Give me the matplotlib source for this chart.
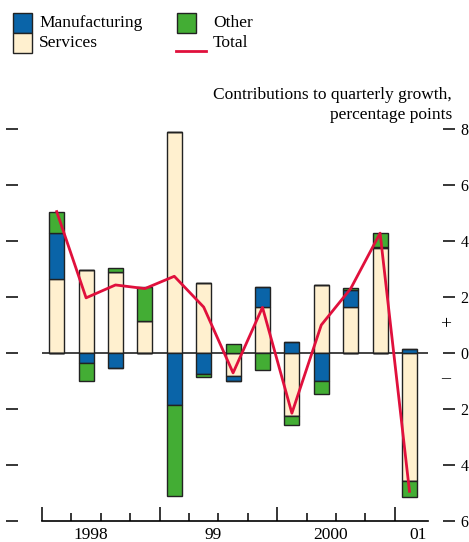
import numpy as np
import matplotlib.pyplot as plt
from matplotlib.patches import Rectangle
from matplotlib.lines import Line2D

plt.rcParams['font.family'] = ['Liberation Serif', 'DejaVu Serif']

# Quarterly contributions, 1998Q1 .. 2001Q1 (percentage points)
quarters = ['1998Q1', '1998Q2', '1998Q3', '1998Q4',
            '1999Q1', '1999Q2', '1999Q3', '1999Q4',
            '2000Q1', '2000Q2', '2000Q3', '2000Q4', '2001Q1']
services = [2.64, 2.96, 2.88, 1.15, 7.89, 2.49, -0.83, 1.63, -2.24, 2.43, 1.63, 3.74, -4.57]
manufacturing = [1.64, -0.37, -0.55, 0.0, -1.86, -0.76, -0.18, 0.72, 0.40, -1.01, 0.63, 0.06, 0.15]
other = [0.77, -0.64, 0.16, 1.20, -3.26, -0.11, 0.32, -0.62, -0.32, -0.44, 0.07, 0.50, -0.56]
total = [5.05, 1.97, 2.43, 2.30, 2.74, 1.64, -0.71, 1.63, -2.15, 1.00, 2.30, 4.28, -4.94]

year_labels = ['1998', '99', '2000', '01']
yticks = [-6, -4, -2, 0, 2, 4, 6, 8]
ytick_labels = ['6', '4', '2', '0', '2', '4', '6', '8']

c_manu = '#0a64a8'
c_serv = '#fff0cf'
c_other = '#43ad34'
c_total = '#e0103c'

W, H = 469, 542
fig = plt.figure(figsize=(W / 100, H / 100), dpi=100)
ax = fig.add_axes([42 / W, 21 / H, (428 - 42) / W, (521 - 129) / H])

x = np.arange(len(quarters)) + 0.5
width = 0.51

# stack positives and negatives separately in order services, manufacturing, other
pos_base = np.zeros(len(x))
neg_base = np.zeros(len(x))
for vals, col in [(services, c_serv), (manufacturing, c_manu), (other, c_other)]:
    v = np.array(vals)
    pos = np.where(v > 0, v, 0)
    neg = np.where(v < 0, v, 0)
    ax.bar(x, pos, width, bottom=pos_base, color=col, edgecolor='#222222', linewidth=1.0, zorder=2)
    ax.bar(x, neg, width, bottom=neg_base, color=col, edgecolor='#222222', linewidth=1.0, zorder=2)
    pos_base += pos
    neg_base += neg

ax.axhline(0, color='#222222', linewidth=1.2, zorder=1)
ax.plot(x, total, color=c_total, linewidth=2.0, zorder=3)

ax.set_xlim(0, 13.13)
ax.set_ylim(-6, 8)

ax.spines['top'].set_visible(False)
ax.spines['left'].set_position(('outward', 17))
ax.spines['right'].set_position(('outward', 11))
ax.spines['left'].set_visible(False)
ax.spines['right'].set_visible(False)
ax.spines['bottom'].set_linewidth(1.2)

ax.set_yticks(yticks)
ax.set_yticklabels(ytick_labels)
ax.tick_params(axis='y', left=True, right=True, labelleft=False, labelright=True,
               direction='out', length=8.5, width=1.1, pad=4, labelsize=11.5)
ax.set_xticks([0, 4, 8, 12])
ax.set_xticks(np.arange(0, 13), minor=True)
ax.tick_params(axis='x', which='major', direction='in', length=10, width=1.1, labelbottom=False)
ax.tick_params(axis='x', which='minor', direction='in', length=5.5, width=1.1)

for xp, lab in zip([1.67, 5.82, 9.8, 12.79], year_labels):
    fig.text(ax.transData.transform((xp, 0))[0] / W, 1 - 539 / H, lab,
             ha='center', va='baseline', fontsize=12.5)

ax.text(1.045, 1, '+', transform=ax.get_yaxis_transform(), ha='center', va='center', fontsize=14)
ax.text(1.045, -0.9, '–', transform=ax.get_yaxis_transform(), ha='center', va='center', fontsize=13)

fig.text(452 / W, 1 - 87 / H, 'Contributions to quarterly growth,\npercentage points',
         ha='right', va='top', fontsize=12.5, linespacing=1.35)

# legend drawn by hand
def fx(px):
    return px / W

def fy(py):
    return 1 - py / H

for (px, py, col) in [(13, 13, c_manu), (13, 33, c_serv), (177, 13, c_other)]:
    fig.add_artist(Rectangle((fx(px), fy(py + 20)), 19 / W, 20 / H, transform=fig.transFigure,
                             facecolor=col, edgecolor='#222222', linewidth=1.0))
fig.add_artist(Line2D([fx(176), fx(206)], [fy(51), fy(51)], transform=fig.transFigure,
                      color=c_total, linewidth=2.0))
for (px, py, lab) in [(39, 23, 'Manufacturing'), (39, 43, 'Services'), (213, 23, 'Other'), (213, 43, 'Total')]:
    fig.text(fx(px), fy(py), lab, ha='left', va='center', fontsize=12.5)

fig.savefig('out.png', dpi=100)
